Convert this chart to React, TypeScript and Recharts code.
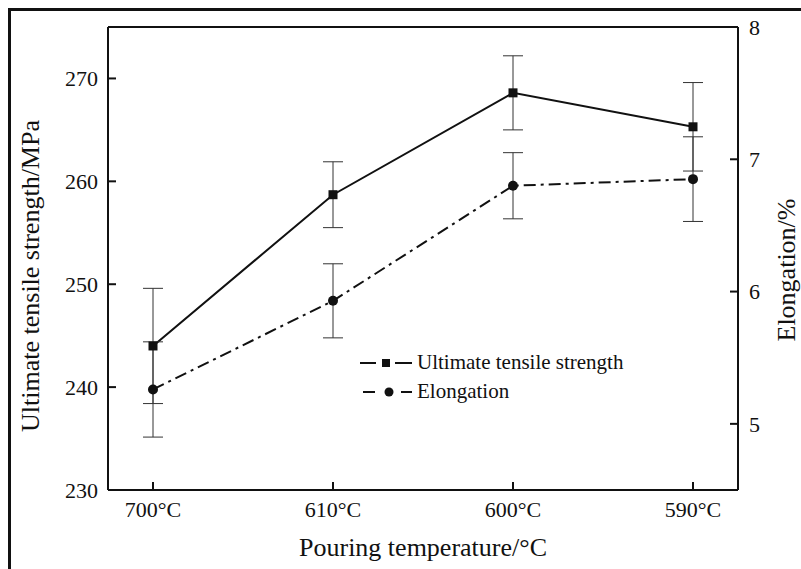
import { LineChart, Line, XAxis, YAxis, ErrorBar, Legend, ReferenceLine } from 'recharts'

const FONT = 'Liberation Serif, DejaVu Serif, serif'
const INK = '#111'

const temps = ['700°C', '610°C', '600°C', '590°C']
const strength = [244.0, 258.7, 268.6, 265.3]
const strengthErr = [5.6, 3.2, 3.6, 4.3]
const elongation = [5.26, 5.93, 6.8, 6.85]
const elongationErr = [0.36, 0.28, 0.25, 0.32]

const strengthTicks = [230, 240, 250, 260, 270]
const elongationTicks = [5, 6, 7, 8]

const data = temps.map((t, i) => ({
  temp: t,
  uts: strength[i],
  utsErr: strengthErr[i],
  el: elongation[i],
  elErr: elongationErr[i],
}))

const tickStyle = { fontSize: 22, fill: INK, fontFamily: FONT }

function SquareDot(props: any) {
  const { cx, cy, index } = props
  return <rect key={`sq-${index}`} x={cx - 4.5} y={cy - 4.5} width={9} height={9} fill={INK} />
}

function CircleDot(props: any) {
  const { cx, cy, index } = props
  return <circle key={`ci-${index}`} cx={cx} cy={cy} r={5} fill={INK} />
}

function LegendBox() {
  const row = { display: 'flex', alignItems: 'center', height: 29 }
  return (
    <div style={{ fontFamily: FONT, fontSize: 21, color: INK }}>
      <div style={row}>
        <svg width={54} height={12}>
          <line x1={0} y1={6} x2={16} y2={6} stroke={INK} strokeWidth={2} />
          <rect x={22} y={2} width={8} height={8} fill={INK} />
          <line x1={35} y1={6} x2={52} y2={6} stroke={INK} strokeWidth={2} />
        </svg>
        <span style={{ marginLeft: 3 }}>Ultimate tensile strength</span>
      </div>
      <div style={row}>
        <svg width={54} height={12}>
          <line x1={3} y1={6} x2={15} y2={6} stroke={INK} strokeWidth={2} />
          <circle cx={29} cy={6} r={4.5} fill={INK} />
          <line x1={41} y1={6} x2={52} y2={6} stroke={INK} strokeWidth={2} />
        </svg>
        <span style={{ marginLeft: 3 }}>Elongation</span>
      </div>
    </div>
  )
}

export default function App() {
  return (
    <div style={{ position: 'absolute', left: 0, top: 0, width: 801, height: 569, background: '#fff', overflow: 'hidden' }}>
      <div
        style={{
          position: 'absolute', left: 8, top: 8, right: -10, bottom: -10,
          borderLeft: `3px solid ${INK}`, borderTop: `3px solid ${INK}`,
        }}
      />
      <LineChart width={801} height={569} data={data} margin={{ top: 27, right: 0, bottom: 0, left: 0 }}>
        <XAxis
          dataKey="temp"
          height={79}
          padding={{ left: 45, right: 45 }}
          tick={tickStyle}
          tickSize={-8}
          tickMargin={19}
          axisLine={{ stroke: INK, strokeWidth: 2 }}
          tickLine={{ stroke: INK, strokeWidth: 2 }}
        />
        <YAxis
          yAxisId="left"
          width={108}
          domain={[230, 275]}
          ticks={strengthTicks}
          tick={tickStyle}
          tickSize={-8}
          tickMargin={18}
          axisLine={{ stroke: INK, strokeWidth: 2 }}
          tickLine={{ stroke: INK, strokeWidth: 2 }}
        />
        <YAxis
          yAxisId="right"
          orientation="right"
          width={63}
          domain={[4.5, 8]}
          ticks={elongationTicks}
          tick={tickStyle}
          tickSize={-8}
          tickMargin={19}
          axisLine={{ stroke: INK, strokeWidth: 2 }}
          tickLine={{ stroke: INK, strokeWidth: 2 }}
        />
        <ReferenceLine yAxisId="left" y={275} stroke={INK} strokeWidth={2} />
        <Legend
          layout="vertical"
          align="center"
          verticalAlign="middle"
          content={() => <LegendBox />}
          wrapperStyle={{ left: 360, top: 348, width: 300 }}
        />
        <Line
          yAxisId="left"
          dataKey="uts"
          stroke={INK}
          strokeWidth={2}
          dot={SquareDot}
          activeDot={false}
          isAnimationActive={false}
        >
          <ErrorBar dataKey="utsErr" width={10} stroke="#333" strokeWidth={1} direction="y" isAnimationActive={false} />
        </Line>
        <Line
          yAxisId="right"
          dataKey="el"
          stroke={INK}
          strokeWidth={2}
          strokeDasharray="12 5 3 5"
          dot={CircleDot}
          activeDot={false}
          isAnimationActive={false}
        >
          <ErrorBar dataKey="elErr" width={10} stroke="#333" strokeWidth={1} direction="y" isAnimationActive={false} />
        </Line>
      </LineChart>
      <div
        style={{
          position: 'absolute', left: 31, top: 276, transform: 'translate(-50%, -50%) rotate(-90deg)',
          fontFamily: FONT, fontSize: 26, color: INK, whiteSpace: 'nowrap',
        }}
      >
        Ultimate tensile strength/MPa
      </div>
      <div
        style={{
          position: 'absolute', left: 787, top: 270, transform: 'translate(-50%, -50%) rotate(-90deg)',
          fontFamily: FONT, fontSize: 26, color: INK, whiteSpace: 'nowrap',
        }}
      >
        Elongation/%
      </div>
      <div
        style={{
          position: 'absolute', left: 423, top: 548, transform: 'translate(-50%, -50%)',
          fontFamily: FONT, fontSize: 26, color: INK, whiteSpace: 'nowrap',
        }}
      >
        Pouring temperature/°C
      </div>
    </div>
  )
}
